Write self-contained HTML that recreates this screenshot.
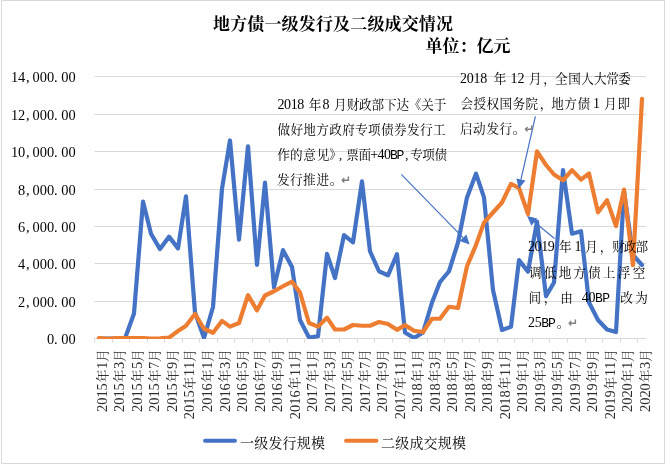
<!DOCTYPE html>
<html lang="zh-CN"><head><meta charset="utf-8"><title>地方债一级发行及二级成交情况</title>
<style>
html,body{margin:0;padding:0;background:#fff;}
svg{display:block}
text{font-family:"Liberation Serif","Noto Serif CJK SC",serif;fill:#000;}
.t{font-size:17px;font-weight:bold;}
.y{font-size:14.4px;}
.x{font-size:14.4px;fill:#2e2e2e;}
.c{font-size:13px;}
.n{font-size:12.6px;}
.l{font-size:14px;}
.d{font-size:14px;}
.m{font-size:13px;font-family:"Liberation Mono",monospace;}
.g{stroke:#d9d9d9;stroke-width:1;fill:none}
</style></head><body>
<svg width="665" height="464" viewBox="0 0 665 464">
<rect x="0" y="0" width="665" height="464" fill="#fff"/>
<path class="g" d="M1 0.5H665M1.5 0V464M664.5 0V464M1 463.5H665"/>

<path class="g" d="M94.5 338.50H646.3"/>
<path class="g" d="M94.5 301.50H646.3"/>
<path class="g" d="M94.5 263.50H646.3"/>
<path class="g" d="M94.5 226.50H646.3"/>
<path class="g" d="M94.5 189.50H646.3"/>
<path class="g" d="M94.5 151.50H646.3"/>
<path class="g" d="M94.5 114.50H646.3"/>
<path class="g" d="M94.5 76.50H646.3"/>
<path class="g" d="M94.5 338.5V342.5M112.5 338.5V342.5M129.5 338.5V342.5M147.5 338.5V342.5M164.5 338.5V342.5M182.5 338.5V342.5M199.5 338.5V342.5M217.5 338.5V342.5M234.5 338.5V342.5M252.5 338.5V342.5M269.5 338.5V342.5M287.5 338.5V342.5M304.5 338.5V342.5M322.5 338.5V342.5M339.5 338.5V342.5M357.5 338.5V342.5M374.5 338.5V342.5M392.5 338.5V342.5M409.5 338.5V342.5M427.5 338.5V342.5M444.5 338.5V342.5M462.5 338.5V342.5M479.5 338.5V342.5M497.5 338.5V342.5M514.5 338.5V342.5M532.5 338.5V342.5M549.5 338.5V342.5M567.5 338.5V342.5M585.5 338.5V342.5M602.5 338.5V342.5M620.5 338.5V342.5M637.5 338.5V342.5"/>
<text class="y" text-anchor="middle" x="50.5 55.9 64.9 72.1" y="344.00">0.00</text>
<text class="y" text-anchor="middle" x="21.7 27.9 36.1 43.3 50.5 55.9 64.9 72.1" y="307.00">2,000.00</text>
<text class="y" text-anchor="middle" x="21.7 27.9 36.1 43.3 50.5 55.9 64.9 72.1" y="269.00">4,000.00</text>
<text class="y" text-anchor="middle" x="21.7 27.9 36.1 43.3 50.5 55.9 64.9 72.1" y="232.00">6,000.00</text>
<text class="y" text-anchor="middle" x="21.7 27.9 36.1 43.3 50.5 55.9 64.9 72.1" y="195.00">8,000.00</text>
<text class="y" text-anchor="middle" x="14.5 21.7 27.9 36.1 43.3 50.5 55.9 64.9 72.1" y="157.00">10,000.00</text>
<text class="y" text-anchor="middle" x="14.5 21.7 27.9 36.1 43.3 50.5 55.9 64.9 72.1" y="120.00">12,000.00</text>
<text class="y" text-anchor="middle" x="14.5 21.7 27.9 36.1 43.3 50.5 55.9 64.9 72.1" y="82.00">14,000.00</text>
<text class="x" text-anchor="middle" transform="translate(106.90,0) rotate(-90)" x="-408.4 -401.2 -394.0 -386.8 -376.0 -365.4 -355.5" y="0">2015<tspan class="c" dy="-0.4">年</tspan><tspan dy="0.4">1</tspan><tspan class="c" dy="-0.4">月</tspan></text>
<text class="x" text-anchor="middle" transform="translate(124.42,0) rotate(-90)" x="-408.4 -401.2 -394.0 -386.8 -376.0 -365.4 -355.5" y="0">2015<tspan class="c" dy="-0.4">年</tspan><tspan dy="0.4">3</tspan><tspan class="c" dy="-0.4">月</tspan></text>
<text class="x" text-anchor="middle" transform="translate(141.94,0) rotate(-90)" x="-408.4 -401.2 -394.0 -386.8 -376.0 -365.4 -355.5" y="0">2015<tspan class="c" dy="-0.4">年</tspan><tspan dy="0.4">5</tspan><tspan class="c" dy="-0.4">月</tspan></text>
<text class="x" text-anchor="middle" transform="translate(159.45,0) rotate(-90)" x="-408.4 -401.2 -394.0 -386.8 -376.0 -365.4 -355.5" y="0">2015<tspan class="c" dy="-0.4">年</tspan><tspan dy="0.4">7</tspan><tspan class="c" dy="-0.4">月</tspan></text>
<text class="x" text-anchor="middle" transform="translate(176.97,0) rotate(-90)" x="-408.4 -401.2 -394.0 -386.8 -376.0 -365.4 -355.5" y="0">2015<tspan class="c" dy="-0.4">年</tspan><tspan dy="0.4">9</tspan><tspan class="c" dy="-0.4">月</tspan></text>
<text class="x" text-anchor="middle" transform="translate(194.49,0) rotate(-90)" x="-415.6 -408.4 -401.2 -394.0 -383.2 -372.6 -365.4 -355.5" y="0">2015<tspan class="c" dy="-0.4">年</tspan><tspan dy="0.4">11</tspan><tspan class="c" dy="-0.4">月</tspan></text>
<text class="x" text-anchor="middle" transform="translate(212.01,0) rotate(-90)" x="-408.4 -401.2 -394.0 -386.8 -376.0 -365.4 -355.5" y="0">2016<tspan class="c" dy="-0.4">年</tspan><tspan dy="0.4">1</tspan><tspan class="c" dy="-0.4">月</tspan></text>
<text class="x" text-anchor="middle" transform="translate(229.53,0) rotate(-90)" x="-408.4 -401.2 -394.0 -386.8 -376.0 -365.4 -355.5" y="0">2016<tspan class="c" dy="-0.4">年</tspan><tspan dy="0.4">3</tspan><tspan class="c" dy="-0.4">月</tspan></text>
<text class="x" text-anchor="middle" transform="translate(247.04,0) rotate(-90)" x="-408.4 -401.2 -394.0 -386.8 -376.0 -365.4 -355.5" y="0">2016<tspan class="c" dy="-0.4">年</tspan><tspan dy="0.4">5</tspan><tspan class="c" dy="-0.4">月</tspan></text>
<text class="x" text-anchor="middle" transform="translate(264.56,0) rotate(-90)" x="-408.4 -401.2 -394.0 -386.8 -376.0 -365.4 -355.5" y="0">2016<tspan class="c" dy="-0.4">年</tspan><tspan dy="0.4">7</tspan><tspan class="c" dy="-0.4">月</tspan></text>
<text class="x" text-anchor="middle" transform="translate(282.08,0) rotate(-90)" x="-408.4 -401.2 -394.0 -386.8 -376.0 -365.4 -355.5" y="0">2016<tspan class="c" dy="-0.4">年</tspan><tspan dy="0.4">9</tspan><tspan class="c" dy="-0.4">月</tspan></text>
<text class="x" text-anchor="middle" transform="translate(299.60,0) rotate(-90)" x="-415.6 -408.4 -401.2 -394.0 -383.2 -372.6 -365.4 -355.5" y="0">2016<tspan class="c" dy="-0.4">年</tspan><tspan dy="0.4">11</tspan><tspan class="c" dy="-0.4">月</tspan></text>
<text class="x" text-anchor="middle" transform="translate(317.12,0) rotate(-90)" x="-408.4 -401.2 -394.0 -386.8 -376.0 -365.4 -355.5" y="0">2017<tspan class="c" dy="-0.4">年</tspan><tspan dy="0.4">1</tspan><tspan class="c" dy="-0.4">月</tspan></text>
<text class="x" text-anchor="middle" transform="translate(334.63,0) rotate(-90)" x="-408.4 -401.2 -394.0 -386.8 -376.0 -365.4 -355.5" y="0">2017<tspan class="c" dy="-0.4">年</tspan><tspan dy="0.4">3</tspan><tspan class="c" dy="-0.4">月</tspan></text>
<text class="x" text-anchor="middle" transform="translate(352.15,0) rotate(-90)" x="-408.4 -401.2 -394.0 -386.8 -376.0 -365.4 -355.5" y="0">2017<tspan class="c" dy="-0.4">年</tspan><tspan dy="0.4">5</tspan><tspan class="c" dy="-0.4">月</tspan></text>
<text class="x" text-anchor="middle" transform="translate(369.67,0) rotate(-90)" x="-408.4 -401.2 -394.0 -386.8 -376.0 -365.4 -355.5" y="0">2017<tspan class="c" dy="-0.4">年</tspan><tspan dy="0.4">7</tspan><tspan class="c" dy="-0.4">月</tspan></text>
<text class="x" text-anchor="middle" transform="translate(387.19,0) rotate(-90)" x="-408.4 -401.2 -394.0 -386.8 -376.0 -365.4 -355.5" y="0">2017<tspan class="c" dy="-0.4">年</tspan><tspan dy="0.4">9</tspan><tspan class="c" dy="-0.4">月</tspan></text>
<text class="x" text-anchor="middle" transform="translate(404.71,0) rotate(-90)" x="-415.6 -408.4 -401.2 -394.0 -383.2 -372.6 -365.4 -355.5" y="0">2017<tspan class="c" dy="-0.4">年</tspan><tspan dy="0.4">11</tspan><tspan class="c" dy="-0.4">月</tspan></text>
<text class="x" text-anchor="middle" transform="translate(422.22,0) rotate(-90)" x="-408.4 -401.2 -394.0 -386.8 -376.0 -365.4 -355.5" y="0">2018<tspan class="c" dy="-0.4">年</tspan><tspan dy="0.4">1</tspan><tspan class="c" dy="-0.4">月</tspan></text>
<text class="x" text-anchor="middle" transform="translate(439.74,0) rotate(-90)" x="-408.4 -401.2 -394.0 -386.8 -376.0 -365.4 -355.5" y="0">2018<tspan class="c" dy="-0.4">年</tspan><tspan dy="0.4">3</tspan><tspan class="c" dy="-0.4">月</tspan></text>
<text class="x" text-anchor="middle" transform="translate(457.26,0) rotate(-90)" x="-408.4 -401.2 -394.0 -386.8 -376.0 -365.4 -355.5" y="0">2018<tspan class="c" dy="-0.4">年</tspan><tspan dy="0.4">5</tspan><tspan class="c" dy="-0.4">月</tspan></text>
<text class="x" text-anchor="middle" transform="translate(474.78,0) rotate(-90)" x="-408.4 -401.2 -394.0 -386.8 -376.0 -365.4 -355.5" y="0">2018<tspan class="c" dy="-0.4">年</tspan><tspan dy="0.4">7</tspan><tspan class="c" dy="-0.4">月</tspan></text>
<text class="x" text-anchor="middle" transform="translate(492.30,0) rotate(-90)" x="-408.4 -401.2 -394.0 -386.8 -376.0 -365.4 -355.5" y="0">2018<tspan class="c" dy="-0.4">年</tspan><tspan dy="0.4">9</tspan><tspan class="c" dy="-0.4">月</tspan></text>
<text class="x" text-anchor="middle" transform="translate(509.81,0) rotate(-90)" x="-415.6 -408.4 -401.2 -394.0 -383.2 -372.6 -365.4 -355.5" y="0">2018<tspan class="c" dy="-0.4">年</tspan><tspan dy="0.4">11</tspan><tspan class="c" dy="-0.4">月</tspan></text>
<text class="x" text-anchor="middle" transform="translate(527.33,0) rotate(-90)" x="-408.4 -401.2 -394.0 -386.8 -376.0 -365.4 -355.5" y="0">2019<tspan class="c" dy="-0.4">年</tspan><tspan dy="0.4">1</tspan><tspan class="c" dy="-0.4">月</tspan></text>
<text class="x" text-anchor="middle" transform="translate(544.85,0) rotate(-90)" x="-408.4 -401.2 -394.0 -386.8 -376.0 -365.4 -355.5" y="0">2019<tspan class="c" dy="-0.4">年</tspan><tspan dy="0.4">3</tspan><tspan class="c" dy="-0.4">月</tspan></text>
<text class="x" text-anchor="middle" transform="translate(562.37,0) rotate(-90)" x="-408.4 -401.2 -394.0 -386.8 -376.0 -365.4 -355.5" y="0">2019<tspan class="c" dy="-0.4">年</tspan><tspan dy="0.4">5</tspan><tspan class="c" dy="-0.4">月</tspan></text>
<text class="x" text-anchor="middle" transform="translate(579.89,0) rotate(-90)" x="-408.4 -401.2 -394.0 -386.8 -376.0 -365.4 -355.5" y="0">2019<tspan class="c" dy="-0.4">年</tspan><tspan dy="0.4">7</tspan><tspan class="c" dy="-0.4">月</tspan></text>
<text class="x" text-anchor="middle" transform="translate(597.40,0) rotate(-90)" x="-408.4 -401.2 -394.0 -386.8 -376.0 -365.4 -355.5" y="0">2019<tspan class="c" dy="-0.4">年</tspan><tspan dy="0.4">9</tspan><tspan class="c" dy="-0.4">月</tspan></text>
<text class="x" text-anchor="middle" transform="translate(614.92,0) rotate(-90)" x="-415.6 -408.4 -401.2 -394.0 -383.2 -372.6 -365.4 -355.5" y="0">2019<tspan class="c" dy="-0.4">年</tspan><tspan dy="0.4">11</tspan><tspan class="c" dy="-0.4">月</tspan></text>
<text class="x" text-anchor="middle" transform="translate(632.44,0) rotate(-90)" x="-408.4 -401.2 -394.0 -386.8 -376.0 -365.4 -355.5" y="0">2020<tspan class="c" dy="-0.4">年</tspan><tspan dy="0.4">1</tspan><tspan class="c" dy="-0.4">月</tspan></text>
<text class="x" text-anchor="middle" transform="translate(649.96,0) rotate(-90)" x="-408.4 -401.2 -394.0 -386.8 -376.0 -365.4 -355.5" y="0">2020<tspan class="c" dy="-0.4">年</tspan><tspan dy="0.4">3</tspan><tspan class="c" dy="-0.4">月</tspan></text>
<clipPath id="pc"><rect x="90" y="60" width="560" height="279"/></clipPath>
<g clip-path="url(#pc)" fill="none" stroke-width="4.2" stroke-linejoin="round" stroke-linecap="round">
<polyline points="99.00,338.50 108.00,338.50 116.00,338.50 125.00,338.50 134.00,313.50 143.00,201.60 151.00,233.75 160.00,249.10 169.00,236.65 178.00,248.35 186.00,196.35 195.00,312.50 204.00,338.00 213.00,307.00 222.00,188.75 230.00,140.45 239.00,239.55 248.00,146.25 257.00,264.90 265.00,182.65 274.00,287.35 283.00,250.15 292.00,267.00 300.00,320.00 309.00,337.50 318.00,336.25 327.00,253.90 335.00,278.00 344.00,235.15 353.00,242.35 362.00,181.40 370.00,251.25 379.00,271.25 388.00,275.35 397.00,254.15 405.00,332.50 414.00,338.00 423.00,332.50 432.00,302.50 440.00,282.00 449.00,271.25 458.00,242.50 467.00,197.40 476.00,173.65 484.00,197.40 493.00,290.00 502.00,330.00 511.00,326.75 519.00,260.15 528.00,271.60 537.00,221.65 546.00,296.10 554.00,282.50 563.00,170.15 572.00,233.75 581.00,231.25 589.00,302.50 598.00,320.00 607.00,329.50 616.00,332.00 624.00,191.15 633.00,255.00 642.00,265.00" stroke="#4472c4"/>
<polyline points="99.00,338.00 108.00,338.90 116.00,338.20 125.00,338.20 134.00,338.20 143.00,338.20 151.00,338.70 160.00,338.30 169.00,337.60 178.00,331.00 186.00,325.75 195.00,313.90 204.00,328.75 213.00,332.75 222.00,320.90 230.00,326.60 239.00,323.00 248.00,295.15 257.00,310.35 265.00,295.50 274.00,291.25 283.00,286.25 292.00,281.65 300.00,292.50 309.00,323.00 318.00,326.60 327.00,317.65 335.00,329.50 344.00,329.50 353.00,325.00 362.00,325.75 370.00,325.75 379.00,322.00 388.00,324.00 397.00,329.85 405.00,325.15 414.00,330.75 423.00,332.00 432.00,318.75 440.00,318.75 449.00,306.75 458.00,308.00 467.00,266.25 476.00,245.00 484.00,222.60 493.00,212.50 502.00,202.50 511.00,183.90 519.00,188.00 528.00,214.10 537.00,151.40 546.00,165.00 554.00,174.50 563.00,180.35 572.00,170.15 581.00,179.60 589.00,173.40 598.00,212.35 607.00,200.15 616.00,226.10 624.00,189.65 633.00,265.20 642.00,98.80" stroke="#ed7d31"/>
</g>
<text class="t" x="213" y="29.5" textLength="240" lengthAdjust="spacing">地方债一级发行及二级成交情况</text>
<text class="t" x="425.5" y="52" textLength="85" lengthAdjust="spacing">单位：亿元</text>
<path d="M205 440.75H235" stroke="#4472c4" stroke-width="3.9" stroke-linecap="round" fill="none"/>
<text class="l" x="240" y="447.5" textLength="85" lengthAdjust="spacing">一级发行规模</text>
<path d="M346 440.75H376.5" stroke="#ed7d31" stroke-width="3.9" stroke-linecap="round" fill="none"/>
<text class="l" x="381" y="447.5" textLength="85" lengthAdjust="spacing">二级成交规模</text>
<path d="M401.30 174.30L463.04 237.67" stroke="#4472c4" stroke-width="1.2" fill="none"/><path d="M469.60 244.40L459.67 240.95L466.41 234.39Z" fill="#4472c4"/>
<path d="M535.40 116.30L520.90 179.54" stroke="#4472c4" stroke-width="1.2" fill="none"/><path d="M518.80 188.70L516.32 178.49L525.48 180.59Z" fill="#4472c4"/>
<path d="M554.50 238.50L534.38 222.05" stroke="#4472c4" stroke-width="1.2" fill="none"/><path d="M527.10 216.10L537.35 218.41L531.40 225.69Z" fill="#4472c4"/>
<text class="n" text-anchor="middle" x="280.9 287.5 294.2 300.8 315.0 326.1 340.3 353.0 365.4 377.9 390.3 402.7 415.1 427.6 440.0" y="108.6"><tspan class="d">2018</tspan>年<tspan class="d">8</tspan>月财政部下达《关于</text>
<text class="n" text-anchor="middle" x="283.7 296.7 309.6 322.6 335.5 348.5 361.5 374.4 387.4 400.3 413.3 426.3 439.2" y="133.6">做好地方政府专项债券发行工</text>
<text class="n" text-anchor="middle" x="283.6 296.2 309.5 323.0 335.5 340.5 352.5 364.7 374.3 381.1 387.6 393.9 400.4 406.8 416.6 428.6 440.7" y="158.6">作的意见》,票面<tspan class="d">+40</tspan><tspan class="m">BP</tspan>,专项债</text>
<text class="n" text-anchor="middle" x="283.3 296.3 309.4 322.9 336.0" y="183.6">发行推进。</text>
<text text-anchor="middle" x="346.0" y="183.6" style="font-family:'DejaVu Sans',sans-serif;font-size:12px;font-weight:bold;fill:#7f7f7f">↵</text>
<text class="n" text-anchor="middle" x="463.6 470.3 477.0 483.7 500.0 514.1 520.9 535.4 549.5 561.4 574.5 587.6 600.3 612.6 624.5" y="82.6"><tspan class="d">2018</tspan>年<tspan class="d">12</tspan>月，全国人大常委</text>
<text class="n" text-anchor="middle" x="466.8 479.8 492.8 505.9 518.9 531.9 546.0 557.6 570.6 583.7 596.6 610.6 623.7" y="107.6">会授权国务院，地方债<tspan class="d">1</tspan>月即</text>
<text class="n" text-anchor="middle" x="466.3 479.4 492.7 505.8 519.0" y="132.6">启动发行。</text>
<text text-anchor="middle" x="529.2" y="132.6" style="font-family:'DejaVu Sans',sans-serif;font-size:12px;font-weight:bold;fill:#7f7f7f">↵</text>
<text class="n" text-anchor="middle" x="531.6 538.1 544.8 551.3 565.4 578.1 591.5 606.0 618.5 630.0 641.7" y="250.8"><tspan class="d">2019</tspan>年<tspan class="d">1</tspan>月，财政部</text>
<text class="n" text-anchor="middle" x="535.3 550.2 565.0 579.6 594.2 609.0 624.0 639.0" y="276.5">调低地方债上浮空</text>
<text class="n" text-anchor="middle" x="534.7 550.0 566.5 585.2 592.0 599.0 606.2 626.5 641.5" y="301.5">间，由<tspan class="d">40</tspan><tspan class="m">BP</tspan>改为</text>
<text class="n" text-anchor="middle" x="531.5 538.2 545.2 552.0 563.0" y="326.5"><tspan class="d">25</tspan><tspan class="m">BP</tspan>。</text>
<text text-anchor="middle" x="573.0" y="326.5" style="font-family:'DejaVu Sans',sans-serif;font-size:12px;font-weight:bold;fill:#7f7f7f">↵</text>
</svg></body></html>
